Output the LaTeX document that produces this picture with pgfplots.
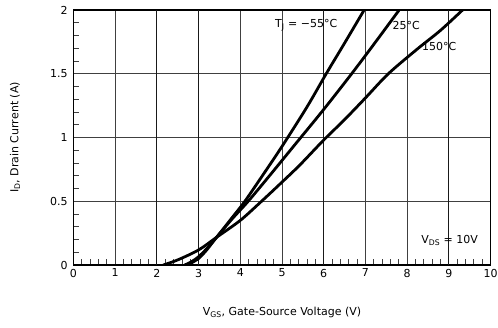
\documentclass[border=0pt]{standalone}
\usepackage{fontspec}
\setmainfont{DejaVu Sans}
\usepackage{pgfplots}
\pgfplotsset{compat=1.18}
\begin{document}
\fontsize{11pt}{13pt}\selectfont
\begin{tikzpicture}
\useasboundingbox (-73.5pt,-62pt) rectangle (424.5pt,265pt);
\begin{axis}[
 at={(0,0)}, anchor=south west, scale only axis, width=417pt, height=255pt,
 xmin=0,xmax=10,ymin=0,ymax=2,
 xtick={0,...,10}, ytick={0,0.5,1,1.5,2},
 minor x tick num=4, minor y tick num=4,
 grid=major, major grid style={black!75, line width=0.8pt},
 axis line style={line width=1.5pt},
 tick align=inside, xtick pos=bottom, ytick pos=left,
 major tick length=0pt, minor tick length=6pt,
 minor tick style={line width=0.8pt, black!75},
 ticklabel style={font=\fontsize{11pt}{13pt}\selectfont},
 yticklabel style={xshift=-2pt},
 /pgf/number format/assume math mode=true,
 extra x ticks={2,3,6,9}, extra x tick labels={},
 extra x tick style={grid=major, major grid style={black!90, line width=1.1pt}},
 xlabel={V\textsubscript{GS}, Gate-Source Voltage (V)},
 ylabel={I\textsubscript{D}, Drain Current (A)},
 xlabel style={at={(axis description cs:0.5,-0.188)}, anchor=center},
 ylabel style={at={(axis description cs:-0.140,0.5)}, anchor=center, rotate=0},
 label style={font=\fontsize{11pt}{13pt}\selectfont},
]
% T_J = -55 C
\addplot[black, line width=2.8pt, smooth, no markers] coordinates {(2.67,0) (2.85,0.03) (3.0,0.065) (3.2,0.13) (3.43,0.217) (3.8,0.37) (4.11,0.5) (4.55,0.71) (5.0,0.93) (5.6,1.24) (6.06,1.5) (6.5,1.74) (6.97,2.0)};
% 25 C
\addplot[black, line width=2.8pt, smooth, no markers] coordinates {(2.75,0) (2.9,0.03) (3.0,0.05) (3.2,0.12) (3.43,0.217) (3.8,0.36) (4.19,0.5) (4.7,0.7) (5.3,0.94) (6.0,1.22) (6.67,1.5) (7.2,1.73) (7.81,2.0)};
% 150 C
\addplot[black, line width=2.8pt, smooth, no markers] coordinates {(2.15,0) (2.5,0.04) (3.0,0.118) (3.43,0.217) (4.0,0.35) (4.51,0.5) (5.0,0.65) (5.43,0.785) (6.0,0.98) (6.5,1.14) (7.0,1.31) (7.55,1.5) (8.23,1.69) (8.8,1.84) (9.33,2.0)};
\node at (axis cs:5.58,1.88) {T\textsubscript{J} = −55°C};
\node at (axis cs:7.98,1.88) {25°C};
\node at (axis cs:8.77,1.71) {150°C};
\node at (axis cs:9.02,0.196) {V\textsubscript{DS} = 10V};
\end{axis}
\end{tikzpicture}
\end{document}
